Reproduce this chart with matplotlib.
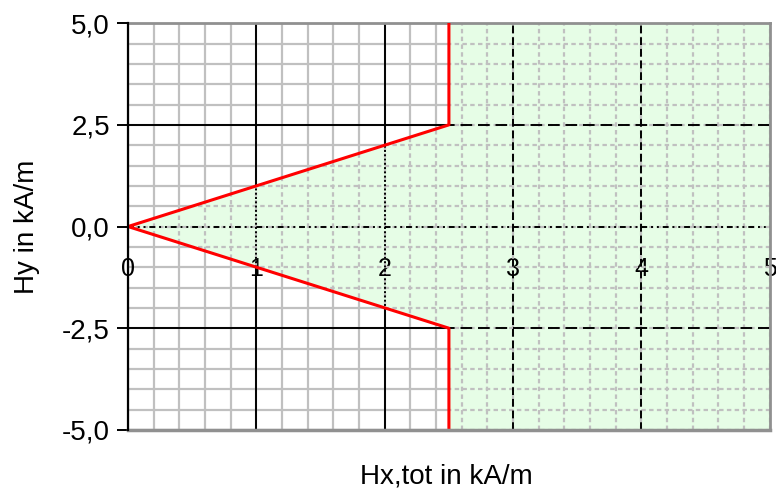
import numpy as np
import matplotlib.pyplot as plt

plt.rcParams['font.family'] = ['Liberation Sans', 'DejaVu Sans']

# boundary curve (kA/m)
hx_edge = [2.5, 2.5, 0.0, 2.5, 2.5]
hy_edge = [5.0, 2.5, 0.0, -2.5, -5.0]

# green area right of the boundary
hx_area = [0.0, 2.5, 2.5, 5.0, 5.0, 2.5, 2.5]
hy_area = [0.0, 2.5, 5.0, 5.0, -5.0, -5.0, -2.5]

x_major = [0, 1, 2, 3, 4, 5]
y_major = [-5.0, -2.5, 0.0, 2.5, 5.0]
y_labels = ['-5,0', '-2,5', '0,0', '2,5', '5,0']

fig = plt.figure(figsize=(7.76, 4.93), dpi=100)
ax = fig.add_axes([0.165, 0.128, 0.827, 0.825])
ax.set_xlim(0, 5)
ax.set_ylim(-5, 5)

x_minor = np.arange(0, 5.01, 0.2)
y_minor = np.arange(-5, 5.01, 0.5)

# gray minor grid, solid below the fill
for v in x_minor:
    ax.axvline(v, color='#c0c0c0', lw=1.6, zorder=0)
for v in y_minor:
    ax.axhline(v, color='#c0c0c0', lw=1.6, zorder=0)
# black major grid
for v in [1, 2]:
    ax.axvline(v, color='black', lw=1.4, zorder=0.5)
for v in [-2.5, 2.5]:
    ax.axhline(v, color='black', lw=1.4, zorder=0.5)

area = ax.fill(hx_area, hy_area, facecolor='#e6fde6', edgecolor='none', zorder=1)[0]

# lines inside the green area are broken
clipped = []
for v in x_minor:
    clipped.append(ax.axvline(v, color='#c0c0c0', lw=1.6, ls=(0, (2, 1.5)), zorder=2))
for v in y_minor:
    clipped.append(ax.axhline(v, color='#c0c0c0', lw=1.6, ls=(0, (2, 1.5)), zorder=2))
for v in [1, 2]:
    clipped.append(ax.axvline(v, color='black', lw=1.4, ls=(0, (1, 1.2)), zorder=2.5))
for v in [3, 4]:
    clipped.append(ax.axvline(v, color='black', lw=1.4, ls=(0, (4, 2)), zorder=2.5))
for v in [-2.5, 2.5]:
    clipped.append(ax.axhline(v, color='black', lw=1.4, ls=(0, (6, 3)), zorder=2.5))
clipped.append(ax.axhline(0, color='black', lw=1.4, ls=(0, (3, 2, 1, 2, 1, 2)), zorder=2.5))
for ln in clipped:
    ln.set_clip_path(area)

ax.plot(hx_edge, hy_edge, color='red', lw=2.2, zorder=4)

# axes frame
ax.spines['left'].set_color('black')
ax.spines['left'].set_linewidth(1.6)
ax.spines['left'].set_zorder(5)
for s in ['top', 'right']:
    ax.spines[s].set_color('#909090')
    ax.spines[s].set_linewidth(2)
ax.spines['bottom'].set_position(('data', 0))
ax.spines['bottom'].set_visible(False)
ax.axhline(-5, color='#909090', lw=2.5, zorder=5, clip_on=False)

ax.set_xticks(x_major)
ax.set_xticklabels([str(v) for v in x_major])
ax.set_yticks(y_major)
ax.set_yticklabels(y_labels)
ax.tick_params(axis='y', direction='out', length=8, width=1.4, labelsize=20, pad=5)
ax.tick_params(axis='x', direction='in', length=0, labelsize=18, pad=22)

ax.set_xlabel('Hx,tot in kA/m', fontsize=20, va='center')
ax.set_ylabel('Hy in kA/m', fontsize=20, va='center')
ax.xaxis.set_label_coords(0.496, -0.115)
ax.yaxis.set_label_coords(-0.157, 0.5)

fig.savefig('out.png', dpi=100)
